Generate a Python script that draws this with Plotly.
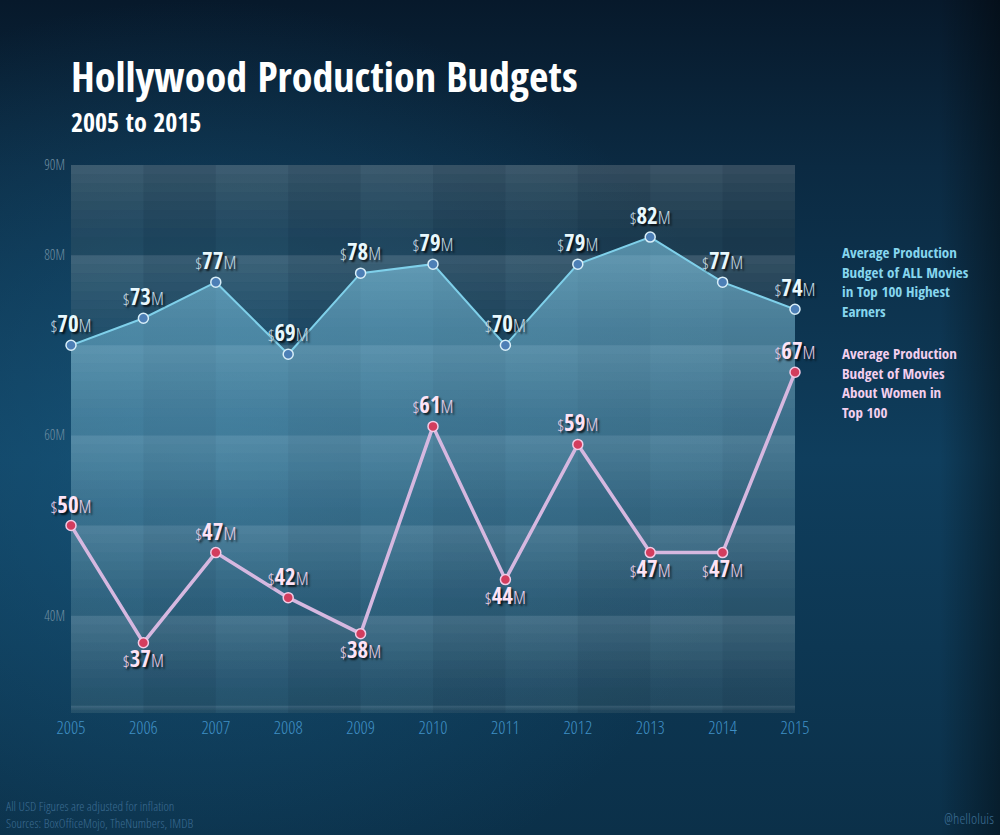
import base64
import plotly.graph_objects as go

# values (USD millions)
years = [2005, 2006, 2007, 2008, 2009, 2010, 2011, 2012, 2013, 2014, 2015]
all_movies = [70, 73, 77, 69, 78, 79, 70, 79, 82, 77, 74]
women_movies = [50, 37, 47, 42, 38, 61, 44, 59, 47, 47, 67]
women_below = [False, True, False, False, True, False, True, False, True, True, False]
y_ticks = [40, 60, 80, 90]
y_tick_text = ['40M', '60M', '80M', '90M']
band_edges = [30, 40, 50, 60, 70, 80, 90]

FONT = 'Open Sans Condensed, Liberation Sans Narrow, DejaVu Sans Condensed, Open Sans'
LIGHT = 'Open Sans Condensed Light, Open Sans Condensed, Liberation Sans Narrow, Open Sans'
W, H = 1000, 835
L, R, T, B = 71, 205, 165, 122
Y0, Y1 = 29.2, 90

# background: dark navy with a lighter glow on the left and a dark right edge
svg = f"""<svg xmlns='http://www.w3.org/2000/svg' width='{W}' height='{H}' viewBox='0 0 {W} {H}' preserveAspectRatio='none'>
<defs>
<linearGradient id='v' x1='0' y1='0' x2='0' y2='1'>
<stop offset='0' stop-color='#07192b'/><stop offset='0.2' stop-color='#0b2a42'/>
<stop offset='0.55' stop-color='#0f3e5d'/><stop offset='1' stop-color='#0b3049'/></linearGradient>
<radialGradient id='r' cx='0.2' cy='0.55' r='0.55'>
<stop offset='0' stop-color='#1b6088' stop-opacity='0.6'/><stop offset='1' stop-color='#1b6088' stop-opacity='0'/></radialGradient>
<linearGradient id='e' x1='0' y1='0' x2='1' y2='0'>
<stop offset='0.94' stop-color='#000' stop-opacity='0'/><stop offset='1' stop-color='#000' stop-opacity='0.4'/></linearGradient>
</defs>
<rect width='{W}' height='{H}' fill='url(#v)'/><rect width='{W}' height='{H}' fill='url(#r)'/>
<rect width='{W}' height='{H}' fill='url(#e)'/></svg>"""
bg_uri = 'data:image/svg+xml;base64,' + base64.b64encode(svg.encode()).decode()

pw, ph = W - L - R, H - T - B
def px(x): return (x - L) / pw
def py(y): return (H - B - y) / ph


def label(v, unit_col):
    return (f"<span style='font-size:17px;color:{unit_col};font-family:{LIGHT};font-weight:300'>$</span>"
            f"<b>{v}</b><span style='font-size:19px;color:{unit_col};font-family:{LIGHT};font-weight:300'>M</span>")


shapes = [dict(type='rect', xref='x', yref='y', x0=years[0], x1=years[-1], y0=Y0, y1=Y1,
               fillcolor='rgba(150,158,140,0.12)', line_width=0, layer='below')]
# each 10M band fades from lighter at its top to darker at its bottom
bands = [(Y0, 30)] + list(zip(band_edges[:-1], band_edges[1:]))
n = 10
for lo, hi in bands:
    step = (hi - lo) / n
    for i in range(n):
        op = 0.0 + 0.17 * (i / (n - 1)) ** 1.6
        shapes.append(dict(type='rect', xref='x', yref='y', x0=years[0], x1=years[-1],
                           y0=lo + i * step, y1=lo + (i + 1) * step,
                           fillcolor=f'rgba(205,222,230,{op:.3f})', line_width=0, layer='below'))
for i in range(len(years) - 1):                               # alternating year columns
    if i % 2 == 1:
        shapes.append(dict(type='rect', xref='x', yref='y', x0=years[i], x1=years[i + 1], y0=Y0, y1=Y1,
                           fillcolor='rgba(0,20,35,0.10)', line_width=0, layer='below'))

fig = go.Figure()

fig.add_trace(go.Scatter(                                     # ALL movies: area + line
    x=years, y=all_movies, mode='lines+markers+text', fill='tozeroy',
    fillgradient=dict(type='vertical', start=Y0, stop=82,
                      colorscale=[[0, 'rgba(110,180,215,0.06)'], [0.55, 'rgba(125,200,232,0.30)'],
                                  [1, 'rgba(140,218,248,0.52)']]),
    line=dict(color='#7fd0ea', width=2),
    marker=dict(size=10, color='#4d7fb6', line=dict(color='#d8eef8', width=1.5)),
    text=[label(v, '#c6d9e2') for v in all_movies], textposition='top center',
    textfont=dict(family=FONT, size=23, color='#e8f8fd', shadow='2px 2px 2px rgba(0,0,0,0.75)'),
    cliponaxis=False, showlegend=False, hoverinfo='skip'))

fig.add_trace(go.Scatter(                                     # movies about women
    x=years, y=women_movies, mode='lines+markers+text',
    line=dict(color='#d6b8e0', width=3.5),
    marker=dict(size=10, color='#d33d5e', line=dict(color='#f3cbe6', width=1.5)),
    text=[label(v, '#ecd0e8') for v in women_movies],
    textposition=['bottom center' if b else 'top center' for b in women_below],
    textfont=dict(family=FONT, size=23, color='#fde3f6', shadow='2px 2px 2px rgba(0,0,0,0.75)'),
    cliponaxis=False, showlegend=False, hoverinfo='skip'))

ann = [
    dict(text='Hollywood Production Budgets', x=px(69), y=py(76), xanchor='left', yanchor='middle',
         font=dict(family=FONT, size=42, color='white', weight='bold')),
    dict(text='2005 to 2015', x=px(69), y=py(122), xanchor='left', yanchor='middle',
         font=dict(family=FONT, size=26, color='white', weight='bold')),
    dict(text='Average Production<br>Budget of ALL Movies<br>in Top 100 Highest<br>Earners',
         x=px(840), y=py(240), xanchor='left', yanchor='top', align='left',
         font=dict(family=FONT, size=15, color='#86d6ee', weight='bold')),
    dict(text='Average Production<br>Budget of Movies<br>About Women in<br>Top 100',
         x=px(840), y=py(341), xanchor='left', yanchor='top', align='left',
         font=dict(family=FONT, size=15, color='#f3cfee', weight='bold')),
    dict(text='All USD Figures are adjusted for inflation<br>Sources: BoxOfficeMojo, TheNumbers, IMDB',
         x=px(4), y=py(795), xanchor='left', yanchor='top', align='left',
         font=dict(family=LIGHT, size=13, color='#3c6c92', weight=300)),
    dict(text='@helloluis', x=px(996), y=py(818), xanchor='right', yanchor='middle',
         font=dict(family=LIGHT, size=15, color='#3c6c92', weight=300)),
]
for a in ann:
    a.update(xref='paper', yref='paper', showarrow=False)

fig.update_layout(
    width=W, height=H, margin=dict(l=L, r=R, t=T, b=B),
    paper_bgcolor='#0d3350', plot_bgcolor='rgba(0,0,0,0)',
    images=[dict(source=bg_uri, xref='paper', yref='paper', x=px(0), y=py(0),
                 sizex=W / pw, sizey=H / ph, xanchor='left', yanchor='top',
                 sizing='stretch', layer='below')],
    shapes=shapes, annotations=ann,
    xaxis=dict(range=[years[0], years[-1]], tickvals=years, showgrid=False, zeroline=False,
               showline=False, ticks='', ticklabelstandoff=2,
               tickfont=dict(family=LIGHT, size=18, color='#3f8fc4', weight=300)),
    yaxis=dict(range=[Y0, Y1], tickvals=y_ticks, ticktext=y_tick_text, showgrid=False,
               zeroline=False, showline=False, ticks='', ticklabelstandoff=5,
               tickfont=dict(family=LIGHT, size=14, color='#6f8ea2', weight=300)),
)

fig.write_html('out.html', config={'displayModeBar': False},
               post_script="document.body.style.margin='0';")
